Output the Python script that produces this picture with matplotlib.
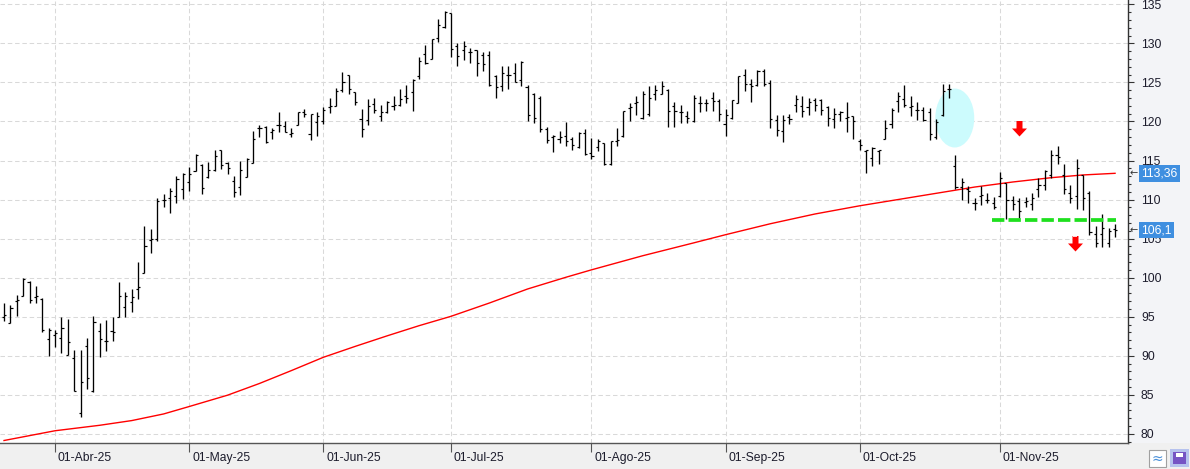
import matplotlib
matplotlib.use("Agg")
import matplotlib.pyplot as plt
import matplotlib.transforms as mtransforms
from matplotlib.patches import Ellipse, Rectangle
from matplotlib.path import Path
import numpy as np

# daily OHLC, one bar per session (bar index 0..174)
opens = [95.0, 94.15, 97.0, 97.7, 99.4, 97.5, 97.3, 92.1, 92.6, 92.3,
         90.15, 89.65, 82.7, 91.2, 85.5, 93.2, 91.9, 93.2, 95.0, 96.25,
         96.9, 98.5, 100.55, 104.8, 104.9, 109.9, 110.2, 110.4, 111.3, 112.3,
         113.7, 114.4, 112.9, 113.8, 116.3, 114.7, 112.4, 111.6, 112.95, 114.7,
         119.2, 119.3, 118.6, 119.5, 119.4, 118.4, 119.5, 121.2, 118.4, 119.9,
         120.0, 121.9, 122.0, 124.0, 126.0, 123.8, 120.3, 120.2, 122.2, 120.7,
         121.2, 122.0, 122.1, 123.2, 123.8, 125.85, 128.7, 128.0, 130.7, 132.05,
         133.85, 129.65, 129.1, 128.9, 129.1, 128.5, 128.5, 125.8, 124.6, 126.0,
         126.15, 125.3, 124.4, 123.5, 123.0, 119.0, 118.0, 117.75, 118.1, 117.75,
         116.7, 118.5, 116.0, 116.7, 117.2, 114.5, 117.55, 118.2, 121.7, 122.35,
         120.4, 120.95, 123.55, 123.55, 124.05, 122.0, 121.2, 120.7, 120.0, 122.3,
         122.35, 123.0, 122.65, 119.7, 120.4, 122.35, 126.0, 124.8, 124.65, 126.4,
         124.9, 120.2, 118.8, 120.6, 122.15, 122.0, 121.85, 122.8, 122.8, 121.9,
         120.3, 121.0, 120.5, 120.65, 117.5, 116.25, 115.3, 116.2, 117.8, 119.7,
         122.6, 122.9, 121.9, 121.5, 121.5, 121.2, 118.0, 120.8, 124.15, 114.3,
         111.6, 111.3, 109.6, 110.5, 110.0, 109.5, 110.4, 112.1, 110.0, 109.8,
         109.7, 109.4, 111.3, 111.9, 113.2, 115.7, 113.2, 110.8, 110.4, 113.2,
         110.85, 105.6, 105.6, 104.45, 106.2]
highs = [96.75, 96.5, 97.8, 99.9, 99.6, 98.9, 97.4, 93.5, 93.3, 95.0,
         94.7, 90.7, 90.7, 92.3, 95.04, 94.2, 94.6, 95.0, 99.4, 98.2,
         98.5, 102.0, 106.6, 106.2, 110.2, 110.7, 111.5, 113.0, 113.4, 114.2,
         115.8, 114.5, 114.8, 116.4, 116.3, 114.8, 113.0, 114.9, 115.3, 118.8,
         119.6, 119.4, 119.2, 121.2, 120.0, 119.2, 121.25, 121.6, 121.0, 121.2,
         121.9, 123.0, 124.3, 126.3, 126.0, 123.8, 121.6, 122.9, 122.95, 122.1,
         122.6, 123.25, 124.1, 124.7, 125.4, 128.2, 129.8, 130.6, 133.1, 134.1,
         133.85, 130.0, 130.3, 129.4, 129.2, 128.9, 129.0, 125.9, 127.1, 127.1,
         127.5, 127.7, 124.65, 123.7, 123.2, 119.3, 118.25, 118.8, 119.9, 118.0,
         118.6, 119.0, 117.9, 117.8, 117.25, 117.5, 119.2, 121.4, 122.4, 123.3,
         123.85, 124.5, 124.65, 125.2, 124.15, 122.45, 122.15, 121.4, 123.4, 123.2,
         122.9, 123.8, 122.9, 121.6, 122.8, 125.85, 126.7, 125.4, 126.6, 126.7,
         125.25, 120.8, 120.8, 121.0, 123.4, 123.3, 123.0, 123.0, 122.9, 122.0,
         121.7, 121.3, 122.5, 120.7, 117.8, 116.4, 116.7, 116.4, 120.2, 121.7,
         123.8, 124.7, 123.2, 122.5, 121.9, 121.7, 120.35, 124.8, 124.8, 115.7,
         112.8, 111.7, 110.2, 111.7, 110.8, 110.3, 113.5, 112.1, 110.4, 110.15,
         110.3, 110.9, 112.8, 113.8, 116.35, 116.8, 114.5, 111.9, 115.2, 113.2,
         111.1, 106.6, 108.1, 106.35, 106.85]
lows = [94.5, 94.15, 95.1, 97.7, 96.7, 96.7, 93.0, 90.0, 91.15, 90.4,
        90.1, 85.5, 82.1, 85.8, 85.4, 89.9, 90.6, 91.9, 94.9, 94.9,
        95.6, 97.3, 100.55, 103.2, 104.75, 109.1, 108.3, 109.6, 110.1, 111.1,
        113.7, 110.7, 112.7, 113.7, 113.9, 113.3, 110.3, 110.6, 112.9, 114.7,
        118.0, 117.2, 117.8, 118.6, 118.65, 118.0, 119.5, 120.6, 117.6, 118.1,
        119.7, 121.1, 122.0, 123.8, 123.5, 122.1, 118.0, 119.5, 121.1, 120.1,
        121.1, 121.5, 122.0, 122.4, 121.4, 125.4, 127.3, 127.95, 130.2, 132.0,
        128.2, 127.1, 127.9, 127.5, 125.8, 126.5, 124.5, 123.0, 123.9, 124.2,
        125.0, 124.5, 120.0, 119.75, 118.7, 117.3, 116.1, 117.3, 116.8, 116.3,
        116.6, 115.7, 115.2, 116.2, 114.4, 114.4, 116.9, 118.0, 120.1, 120.8,
        120.3, 120.65, 122.75, 123.5, 119.25, 119.25, 119.8, 119.8, 119.9, 121.2,
        121.3, 121.3, 120.0, 118.2, 120.3, 122.3, 123.85, 122.45, 124.6, 124.6,
        119.2, 118.2, 117.4, 119.7, 121.2, 120.6, 120.8, 121.4, 120.8, 119.4,
        119.1, 120.0, 118.7, 117.75, 116.3, 113.4, 114.3, 114.6, 117.75, 119.2,
        121.2, 121.8, 120.65, 120.2, 120.1, 117.6, 117.8, 120.65, 123.0, 111.3,
        109.9, 109.5, 108.7, 109.3, 109.6, 108.8, 110.3, 107.5, 108.7, 107.6,
        109.1, 108.7, 110.3, 111.2, 112.8, 114.5, 110.7, 109.6, 108.75, 108.6,
        105.4, 103.9, 103.9, 103.9, 105.25]
closes = [95.2, 96.1, 97.1, 99.8, 97.1, 97.7, 93.3, 93.25, 92.9, 93.55,
          91.75, 85.55, 86.7, 87.1, 94.35, 92.2, 91.9, 93.1, 97.65, 97.65,
          97.5, 98.8, 104.0, 105.0, 109.8, 110.0, 111.1, 112.65, 113.3, 113.3,
          115.75, 111.5, 113.8, 115.6, 114.4, 114.0, 111.0, 113.8, 115.2, 117.75,
          119.2, 117.4, 118.9, 119.5, 118.7, 118.5, 121.2, 121.0, 120.9, 120.7,
          121.5, 122.0, 123.9, 125.0, 124.2, 122.5, 119.0, 122.0, 121.45, 121.2,
          122.5, 122.05, 122.9, 123.0, 125.3, 127.8, 127.5, 130.5, 132.3, 134.0,
          129.3, 128.4, 129.7, 128.85, 127.5, 127.35, 124.7, 124.4, 126.2, 126.0,
          125.1, 127.6, 120.8, 120.5, 119.0, 117.6, 118.1, 118.0, 117.5, 117.0,
          118.5, 115.8, 115.6, 117.5, 114.55, 117.5, 117.6, 121.3, 121.85, 122.5,
          123.5, 123.0, 124.0, 124.6, 121.3, 121.4, 121.15, 120.4, 123.0, 122.4,
          122.3, 122.6, 120.9, 120.8, 122.7, 125.8, 124.8, 124.6, 126.4, 124.8,
          120.35, 118.85, 120.2, 120.3, 122.9, 121.3, 122.55, 122.05, 121.5, 120.4,
          120.9, 121.2, 120.6, 120.0, 117.0, 116.3, 116.55, 116.3, 119.15, 121.5,
          123.2, 122.05, 121.95, 121.5, 120.2, 118.35, 119.9, 123.9, 124.2, 111.6,
          112.2, 111.1, 109.6, 110.6, 110.0, 109.0, 112.8, 110.0, 109.4, 108.5,
          109.8, 110.2, 111.9, 113.6, 115.7, 115.5, 111.3, 110.2, 114.0, 110.2,
          105.8, 104.45, 106.4, 106.0, 106.1]

# moving average read at selected bars
ma_bars = [0, 8, 15, 20, 25, 29, 35, 40, 45, 50, 55, 60, 65, 70, 76, 82, 88,
           92, 100, 108, 113, 120, 127, 134, 140, 146, 152, 158, 164, 169, 174]
ma_vals = [79.15, 80.4, 81.1, 81.7, 82.55, 83.5, 84.95, 86.45, 88.1, 89.8, 91.2,
           92.55, 93.85, 95.05, 96.75, 98.55, 100.05, 101.0, 102.8, 104.45, 105.5,
           106.9, 108.15, 109.2, 110.0, 110.8, 111.6, 112.25, 112.8, 113.15, 113.36]

month_bars = [8, 29, 50, 70, 92, 113, 134, 156]
month_labels = ["01-Abr-25", "01-May-25", "01-Jun-25", "01-Jul-25",
                "01-Ago-25", "01-Sep-25", "01-Oct-25", "01-Nov-25"]

last_close = 106.1
last_ma = 113.36
support_level = 107.35
support_span = (154.7, 174.2)
arrows = [(158.9, 119.2), (167.8, 104.47)]
ellipse_xy = (148.9, 120.44)

W, H = 1190, 469
plt.rcParams['font.family'] = ['Liberation Sans', 'DejaVu Sans']

fig = plt.figure(figsize=(W / 100, H / 100), dpi=100, facecolor='#f3f4f7')
ax = fig.add_axes([0, 26 / H, 1128 / W, 443 / H])
ax.set_facecolor('white')

# bottom strip
fig.add_artist(Rectangle((0, 0), 1, 26 / H, transform=fig.transFigure,
                         facecolor='#f0f0f0', edgecolor='none', zorder=0))

idx = np.arange(len(opens))
ax.set_xlim(-0.63, 176.03)
ax.set_ylim(78.83, 135.55)

ax.add_patch(Ellipse(ellipse_xy, 6.1, 7.55, facecolor='#ccfbfd',
                     edgecolor='none', zorder=1))

ax.vlines(idx, lows, highs, color='black', lw=0.95, zorder=3)
ax.hlines(opens, idx - 0.33, idx, color='black', lw=0.85, zorder=3)
ax.hlines(closes, idx, idx + 0.33, color='black', lw=0.85, zorder=3)

ax.plot(ma_bars, ma_vals, color='#ff0000', lw=1.0, zorder=2)

ax.plot(support_span, [support_level, support_level], color='#1ee01e', lw=2.7,
        linestyle=(0, (3.3, 1.1)), solid_capstyle='butt', zorder=4)

# red down arrows
arrow_path = Path([(-3, 7.5), (3, 7.5), (3, 0), (7.5, 0), (0, -8),
                   (-7.5, 0), (-3, 0), (-3, 7.5)], closed=True)
for ax_x, ax_y in arrows:
    ax.plot([ax_x], [ax_y], marker=arrow_path, markersize=11.5,
            color='#ff0000', markeredgewidth=0, zorder=5)
ax.plot([arrows[1][0]], [arrows[1][1] + 0.85], marker='_', markersize=3,
        color='white', markeredgewidth=1.2, zorder=6)

# grid
ax.set_yticks(np.arange(80, 136, 5))
ax.set_yticks(np.arange(79, 136, 1), minor=True)
ax.set_xticks(month_bars)
ax.set_xticklabels([])
ax.grid(True, which='major', color='#d9d9d9', lw=0.75,
        linestyle=(0, (4.3, 2.7)), zorder=0)
ax.set_axisbelow(True)

for s in ['top', 'left']:
    ax.spines[s].set_visible(False)
ax.spines['right'].set_color('#333333')
ax.spines['bottom'].set_color('#555555')
ax.spines['right'].set_linewidth(1.0)
ax.spines['bottom'].set_linewidth(1.0)

ax.yaxis.tick_right()
ax.tick_params(axis='y', which='major', length=4.3, width=0.8, color='#333333',
               pad=5, labelsize=8.7, labelcolor='#1c1c2c')
ax.tick_params(axis='y', which='minor', length=2.2, width=0.8, color='#333333')
ax.tick_params(axis='x', which='major', length=6.5, width=0.8, color='#555555',
               direction='out')

tb = mtransforms.blended_transform_factory(ax.transData, ax.transAxes)
for b, lab in zip(month_bars, month_labels):
    ax.text(b + 0.45, -0.034, lab, transform=tb, ha='left', va='center',
            fontsize=8.7, color='#1c1c2c', clip_on=False)

# last value tags
ty = mtransforms.blended_transform_factory(ax.transAxes, ax.transData)
for val, txt in [(last_ma, '113,36'), (last_close, '106,1')]:
    ax.text(1.0118, val, txt, transform=ty, ha='left', va='center',
            fontsize=8.7, color='white', clip_on=False, zorder=10,
            bbox=dict(boxstyle='square,pad=0.2', facecolor='#3f8fe0',
                      edgecolor='none'))
    ax.text(1.0015, val, '\u2190', transform=ty, ha='left', va='center',
            fontsize=7, color='#333333', clip_on=False,
            family=['DejaVu Sans'])

# toolbar icons in the corner
fig.add_artist(Rectangle((1149 / W, 2 / H), 17 / W, 17 / H,
                         transform=fig.transFigure, facecolor='white',
                         edgecolor='#a0a0a0', lw=0.8))
fig.text(1157.5 / W, 10.5 / H, '\u2248', fontsize=10, color='#4a90d9',
         ha='center', va='center', family=['DejaVu Sans'])
fig.add_artist(Rectangle((1170 / W, 2 / H), 19 / W, 18 / H,
                         transform=fig.transFigure, facecolor='#b6c2ee',
                         edgecolor='none'))
fig.add_artist(Rectangle((1173 / W, 5 / H), 13 / W, 12 / H,
                         transform=fig.transFigure, facecolor='#7654c4',
                         edgecolor='none'))
fig.add_artist(Rectangle((1176 / W, 12 / H), 7 / W, 4 / H,
                         transform=fig.transFigure, facecolor='white',
                         edgecolor='none'))

fig.savefig('out.png', dpi=100, facecolor=fig.get_facecolor())
